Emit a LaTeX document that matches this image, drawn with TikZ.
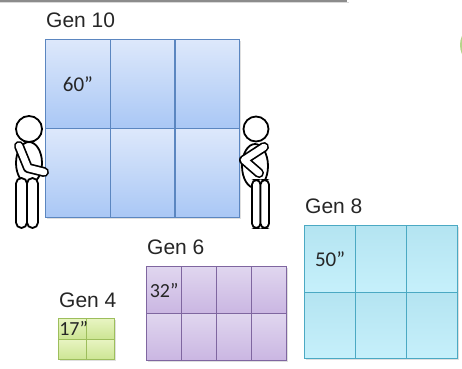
\documentclass[tikz,border=0pt]{standalone}
\usepackage{fontspec}
\setmainfont{Liberation Sans}
\newfontfamily\sizefont{Carlito}
\usetikzlibrary{positioning,shadows}

\definecolor{tenline}{HTML}{5B86C0}
\definecolor{tentop}{HTML}{DDE8FB}
\definecolor{tenbot}{HTML}{A9C7F5}
\definecolor{eightline}{HTML}{4BA9C3}
\definecolor{eighttop}{HTML}{B4E4F1}
\definecolor{eightbot}{HTML}{C6F0FB}
\definecolor{sixline}{HTML}{7F66A0}
\definecolor{sixtop}{HTML}{E0D6EF}
\definecolor{sixbot}{HTML}{CAB6E2}
\definecolor{fourline}{HTML}{9DBE5C}
\definecolor{fourtop}{HTML}{E8F4C2}
\definecolor{fourbot}{HTML}{CCE593}
\definecolor{ringgreen}{HTML}{B5D58A}

\begin{document}
\begin{tikzpicture}[
        x=1pt, y=-1pt,
        font=\fontsize{21}{24}\selectfont,
        cell/.style={draw, line width=1.2pt, inner sep=0pt, anchor=north west,
            drop shadow={opacity=.25, shadow xshift=1.5pt, shadow yshift=-1.5pt}},
        cell10/.style={cell, draw=tenline, top color=tentop, bottom color=tenbot,
            minimum width=64.67pt, minimum height=89pt},
        cell8/.style={cell, draw=eightline, top color=eighttop, bottom color=eightbot,
            minimum width=51pt, minimum height=66.5pt},
        cell6/.style={cell, draw=sixline, top color=sixtop, bottom color=sixbot,
            minimum width=35pt, minimum height=47pt},
        cell4/.style={cell, draw=fourline, top color=fourtop, bottom color=fourbot,
            minimum width=28pt, minimum height=20.5pt},
        genlabel/.style={inner sep=0pt, text=black!85},
        size/.style={inner sep=0pt, text=black!85, font=\sizefont\fontsize{21}{24}\selectfont},
        limb/.style={line cap=round, line join=round},
    ]
    \useasboundingbox (0,0) rectangle (462,368);

    % strip along the top edge and the ring cut by the right edge
    \fill[black!45] (0,0) rectangle (347,1.5);
    \fill[black!15] (0,1.5) rectangle (349,3);
    \draw[ringgreen, line width=2pt] (482,45) circle (21);

    % panel walls
    \foreach \c in {1,2,3}
        \foreach \r in {1,2}
            \node[cell10] (g10-\c-\r) at ({45+(\c-1)*64.67},{39+(\r-1)*89}) {};
    \foreach \c in {1,2,3}
        \foreach \r in {1,2}
            \node[cell8] (g8-\c-\r) at ({304+(\c-1)*51},{225+(\r-1)*66.5}) {};
    \foreach \c in {1,2,3,4}
        \foreach \r in {1,2}
            \node[cell6] (g6-\c-\r) at ({146+(\c-1)*35},{266+(\r-1)*47}) {};
    \foreach \c in {1,2}
        \foreach \r in {1,2}
            \node[cell4] (g4-\c-\r) at ({58+(\c-1)*28},{318+(\r-1)*20.5}) {};

    % generation names
    \node[genlabel, above right=11.5pt and 1pt of g10-1-1.north west, anchor=base west] (gen10) {Gen 10};
    \node[genlabel, above right=12pt and 1pt of g8-1-1.north west, anchor=base west] (gen8) {Gen 8};
    \node[genlabel, above right=12pt and 1pt of g6-1-1.north west, anchor=base west] (gen6) {Gen 6};
    \node[genlabel, above right=11pt and 1pt of g4-1-1.north west, anchor=base west] (gen4) {Gen 4};

    % panel diagonals
    \node[size] (d10) at (g10-1-1) {60”};
    \node[size] (d8) at (g8-1-1) {50”};
    \node[size, font=\sizefont\fontsize{20}{24}\selectfont] (d6) at (g6-1-1) {32”};
    \begin{scope}
        \clip (g4-1-1.north west) rectangle (g4-1-1.south east);
        \node[size, font=\sizefont\fontsize{20}{24}\selectfont] (d4) at ([xshift=1pt]g4-1-1) {17”};
    \end{scope}

    % left person
    \draw[line width=1.8pt, fill=white] (29,163) ellipse (13 and 21);
    \draw[line width=1.8pt, fill=white, rounded corners=5.5pt] (16,178) rectangle (27,228);
    \draw[line width=1.8pt, fill=white, rounded corners=5.5pt] (27,178) rectangle (38,228);
    \draw[limb, line width=10pt] (19,146) -- (28,168) -- (44,172);
    \draw[limb, line width=6.6pt, white] (19,146) -- (28,168) -- (44,172);
    \draw[line width=1.8pt, fill=white] (29,129) circle (13);

    % right person
    \draw[line width=1.8pt, fill=white] (255,166) ellipse (13 and 22);
    \draw[line width=1.8pt, fill=white, rounded corners=4.5pt] (252,180) rectangle (260.5,228);
    \draw[line width=1.8pt, fill=white, rounded corners=4.5pt] (260.5,180) rectangle (269,228);
    \draw[limb, line width=10pt] (264,147) -- (244,160) -- (259,173);
    \draw[limb, line width=6.6pt, white] (264,147) -- (244,160) -- (259,173);
    \draw[line width=1.8pt, fill=white] (256,129) circle (12.5);
\end{tikzpicture}
\end{document}
